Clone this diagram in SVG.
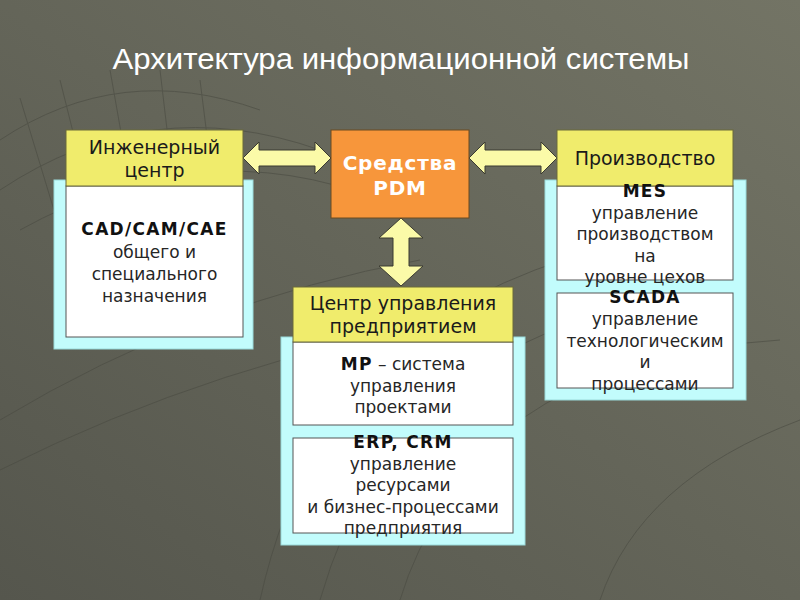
<svg xmlns="http://www.w3.org/2000/svg" width="800" height="600" viewBox="0 0 800 600">
<defs>
<linearGradient id="bg" x1="0" y1="1" x2="1" y2="0">
<stop offset="0" stop-color="#55564d"/>
<stop offset="1" stop-color="#737465"/>
</linearGradient>
<style>
.t{font-family:"DejaVu Sans",Verdana,sans-serif;font-size:17px;fill:#262626;text-anchor:middle}
.h{font-size:19px;fill:#1a1a1a}
.b{font-weight:bold;fill:#111;letter-spacing:1.3px}
.w{fill:#ffffff;font-size:20px;font-weight:bold;letter-spacing:0.8px}
.yel{fill:#f0ec6c;stroke:#6b6a3a;stroke-width:1}
.cy{fill:#c2fcfc;stroke:#9adada;stroke-width:1}
.wh{fill:#ffffff;stroke:#555;stroke-width:1}
.arr{fill:#fbfaa8;stroke:#3a3a30;stroke-width:1}
.grid{fill:none;stroke:#4a4b42;stroke-width:1;opacity:0.6}
</style>
</defs>
<rect width="800" height="600" fill="url(#bg)"/>
<g class="grid">
<path d="M0 140 Q120 60 260 110"/>
<path d="M0 190 Q150 90 320 150"/>
<path d="M20 230 Q200 130 380 200"/>
<path d="M20 98 L60 230 M60 80 L100 240 M110 70 L140 240 M160 70 L180 240 M200 80 L220 240"/>
<path d="M260 600 Q300 420 420 330 Q520 260 680 230"/>
<path d="M320 600 Q360 460 460 380 Q560 310 720 290"/>
<path d="M400 600 Q430 500 520 420 Q620 350 780 340"/>
<path d="M0 420 Q200 300 420 260"/>
<path d="M0 470 Q220 360 460 320"/>
<path d="M600 600 Q640 480 800 420"/>
</g>
<text x="401" y="69" font-family="Liberation Sans,Arial,sans-serif" font-size="29" fill="#ffffff" text-anchor="middle" textLength="577" lengthAdjust="spacingAndGlyphs">Архитектура информационной системы</text>
<g id="connectors">
<path class="arr" d="M243 158 L259 142 L259 150 L315 150 L315 142 L331 158 L315 174 L315 166 L259 166 L259 174 Z"/>
<path class="arr" d="M469 158 L485 142 L485 150 L541 150 L541 142 L557 158 L541 174 L541 166 L485 166 L485 174 Z"/>
<path class="arr" d="M401 218 L423 238 L409 238 L409 266 L423 266 L401 286 L379 266 L393 266 L393 238 L379 238 Z"/>
</g>
<g id="eng">
<rect class="cy" x="54" y="180" width="199" height="169"/>
<rect class="wh" x="66" y="186" width="177" height="151"/>
<rect class="yel" x="66" y="130" width="177" height="56"/>
<text class="t h" x="154.5" y="154">Инженерный</text>
<text class="t h" x="154.5" y="177">центр</text>
<text class="t b" x="154.5" y="235">CAD/CAM/CAE</text>
<text class="t" x="154.5" y="258">общего и</text>
<text class="t" x="154.5" y="280">специального</text>
<text class="t" x="154.5" y="302">назначения</text>
</g>
<g id="pdm">
<rect x="331" y="130" width="138" height="88" fill="#f7963b" stroke="#6b4a20" stroke-width="1"/>
<text class="t w" x="400" y="170">Средства</text>
<text class="t w" x="400" y="195">PDM</text>
</g>
<g id="prod">
<rect class="cy" x="545" y="180" width="201" height="220"/>
<rect class="wh" x="557" y="186" width="176" height="94"/>
<rect class="wh" x="557" y="293" width="176" height="95"/>
<rect class="yel" x="557" y="130" width="176" height="56"/>
<text class="t h" x="645" y="165">Производство</text>
<text class="t b" x="645" y="197">MES</text>
<text class="t" x="645" y="219">управление</text>
<text class="t" x="645" y="240">производством</text>
<text class="t" x="645" y="262">на</text>
<text class="t" x="645" y="283">уровне цехов</text>
<text class="t b" x="645" y="303">SCADA</text>
<text class="t" x="645" y="325">управление</text>
<text class="t" x="645" y="347">технологическим</text>
<text class="t" x="645" y="368">и</text>
<text class="t" x="645" y="390">процессами</text>
</g>
<g id="mgmt">
<rect class="cy" x="281" y="337" width="244" height="208"/>
<rect class="wh" x="293" y="342" width="220" height="83"/>
<rect class="wh" x="293" y="438" width="220" height="95"/>
<rect class="yel" x="293" y="287" width="220" height="55"/>
<text class="t h" x="403" y="310">Центр управления</text>
<text class="t h" x="403" y="333">предприятием</text>
<text class="t" x="403" y="370"><tspan style="font-weight:bold;fill:#111;letter-spacing:1.3px">MP</tspan> – система</text>
<text class="t" x="403" y="392">управления</text>
<text class="t" x="403" y="413">проектами</text>
<text class="t b" x="403" y="448">ERP, CRM</text>
<text class="t" x="403" y="470">управление</text>
<text class="t" x="403" y="491">ресурсами</text>
<text class="t" x="403" y="513">и бизнес-процессами</text>
<text class="t" x="403" y="534">предприятия</text>
</g>
</svg>
